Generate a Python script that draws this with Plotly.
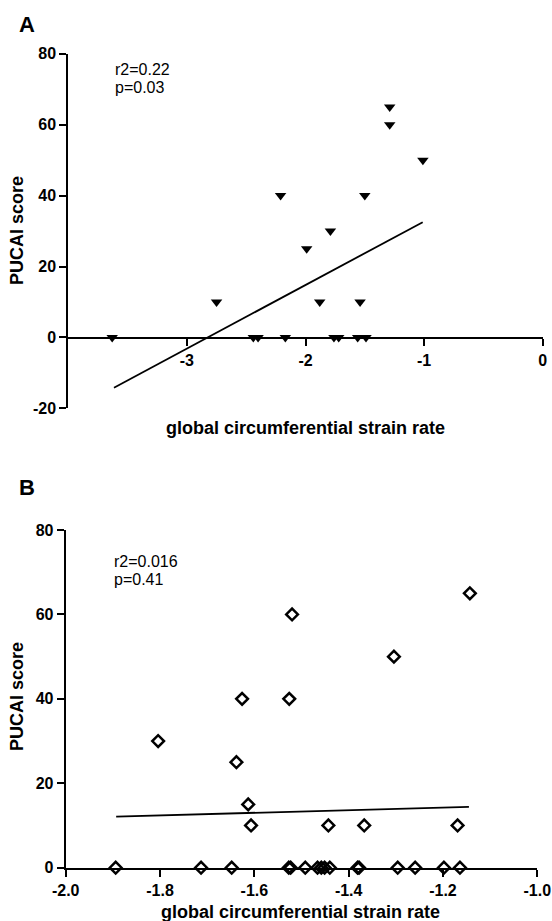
import plotly.graph_objects as go

# ---------------- data ----------------
# Panel A
a_x = [-3.63, -2.75, -2.44, -2.40, -2.17, -2.21, -1.99, -1.88, -1.79, -1.76, -1.72,
       -1.54, -1.56, -1.49, -1.50, -1.29, -1.29, -1.01]
a_y = [0, 10, 0, 0, 0, 40, 25, 10, 30, 0, 0, 10, 0, 0, 40, 65, 60, 50]
a_fit_x = [-3.615, -1.012]
a_fit_y = [-14.2, 32.5]
a_xticks = [-3, -2, -1, 0]
a_xticklabels = ["-3", "-2", "-1", "0"]
a_yticks = [-20, 0, 20, 40, 60, 80]
a_yticklabels = ["-20", "0", "20", "40", "60", "80"]
a_stats = ["r2=0.22", "p=0.03"]

# Panel B
b_x = [-1.894, -1.804, -1.713, -1.648, -1.638, -1.626, -1.613, -1.607, -1.526, -1.520,
       -1.527, -1.523, -1.492, -1.466, -1.458, -1.451, -1.440, -1.443, -1.381, -1.378,
       -1.367, -1.304, -1.296, -1.259, -1.198, -1.169, -1.164, -1.143]
b_y = [0, 30, 0, 0, 25, 40, 15, 10, 40, 60,
       0, 0, 0, 0, 0, 0, 0, 10, 0, 0,
       10, 50, 0, 0, 0, 10, 0, 65]
b_fit_x = [-1.893, -1.145]
b_fit_y = [12.1, 14.4]
b_xticks = [-2.0, -1.8, -1.6, -1.4, -1.2, -1.0]
b_xticklabels = ["-2.0", "-1.8", "-1.6", "-1.4", "-1.2", "-1.0"]
b_yticks = [0, 20, 40, 60, 80]
b_yticklabels = ["0", "20", "40", "60", "80"]
b_stats = ["r2=0.016", "p=0.41"]

x_title = "global circumferential strain rate"
y_title = "PUCAI score"

# ---------------- layout helpers ----------------
W, H = 552, 921
def px(x):
    return x / W
def py(y):
    return 1 - y / H

def bold(labels):
    return ["<b>%s</b>" % s for s in labels]

FONT = "Arial, 'Liberation Sans', sans-serif"
tickfont = dict(family=FONT, size=16, color="black", weight="bold")

fig = go.Figure()

fig.add_trace(go.Scatter(x=a_x, y=a_y, mode="markers", xaxis="x", yaxis="y",
                         marker=dict(symbol="triangle-down", size=10, color="black"),
                         cliponaxis=False, showlegend=False, hoverinfo="skip"))
fig.add_trace(go.Scatter(x=a_fit_x, y=a_fit_y, mode="lines", xaxis="x", yaxis="y",
                         line=dict(color="black", width=1.8), showlegend=False,
                         hoverinfo="skip"))

fig.add_trace(go.Scatter(x=b_x, y=b_y, mode="markers", xaxis="x2", yaxis="y2",
                         marker=dict(symbol="diamond-open", size=9, color="black",
                                     line=dict(width=2.5, color="black")),
                         cliponaxis=False, showlegend=False, hoverinfo="skip"))
fig.add_trace(go.Scatter(x=b_fit_x, y=b_fit_y, mode="lines", xaxis="x2", yaxis="y2",
                         line=dict(color="black", width=1.8), showlegend=False,
                         hoverinfo="skip"))

axis_common = dict(showgrid=False, zeroline=False, showline=True, linecolor="black",
                   linewidth=2, ticks="outside", ticklen=7, tickwidth=2,
                   tickcolor="black", tickfont=tickfont, automargin=False,
                   tickmode="array", fixedrange=True)

a_ydom = [py(408.3), py(53.8)]
a_zero_pos = py(338.3)
b_ydom = [py(867.7), py(530)]

fig.update_layout(
    width=W, height=H,
    margin=dict(l=0, r=0, t=0, b=0, autoexpand=False),
    paper_bgcolor="white", plot_bgcolor="white",
    xaxis=dict(domain=[px(68.3), px(542.7)], range=[-4, 0], tickvals=a_xticks,
               ticktext=bold(a_xticklabels), anchor="free", position=a_zero_pos,
               **axis_common),
    yaxis=dict(domain=a_ydom, range=[-20, 80], tickvals=a_yticks,
               ticktext=bold(a_yticklabels), anchor="x", **axis_common),
    xaxis2=dict(domain=[px(65.7), px(537.3)], range=[-2.0, -1.0], tickvals=b_xticks,
                ticktext=bold(b_xticklabels), anchor="y2", **axis_common),
    yaxis2=dict(domain=b_ydom, range=[0, 80], tickvals=b_yticks,
                ticktext=bold(b_yticklabels), anchor="x2", **axis_common),
)

ann = []
def text(x, y, s, size, bold=False, angle=0, xanchor="left"):
    ann.append(dict(x=px(x), y=py(y), xref="paper", yref="paper",
                    text=("<b>%s</b>" % s) if bold else s,
                    showarrow=False, xanchor=xanchor, yanchor="middle",
                    textangle=angle,
                    font=dict(family=FONT, size=size, color="black")))

# panel letters
text(17, 24.5, "A", 22, bold=True)
text(17, 487.5, "B", 22, bold=True)
# stats
text(113, 69, a_stats[0], 16)
text(113, 87.5, a_stats[1], 16)
text(112, 561, b_stats[0], 16)
text(112, 579.5, b_stats[1], 16)
# axis titles
text(305.5, 428, x_title, 18, bold=True, xanchor="center")
text(300, 912, x_title, 18, bold=True, xanchor="center")
text(17, 231, y_title, 18, bold=True, angle=-90, xanchor="center")
text(17, 697, y_title, 18, bold=True, angle=-90, xanchor="center")

fig.update_layout(annotations=ann)

fig.write_html("out.html", config={"displayModeBar": False},
               post_script="document.body.style.margin='0';document.body.style.overflow='hidden';")
